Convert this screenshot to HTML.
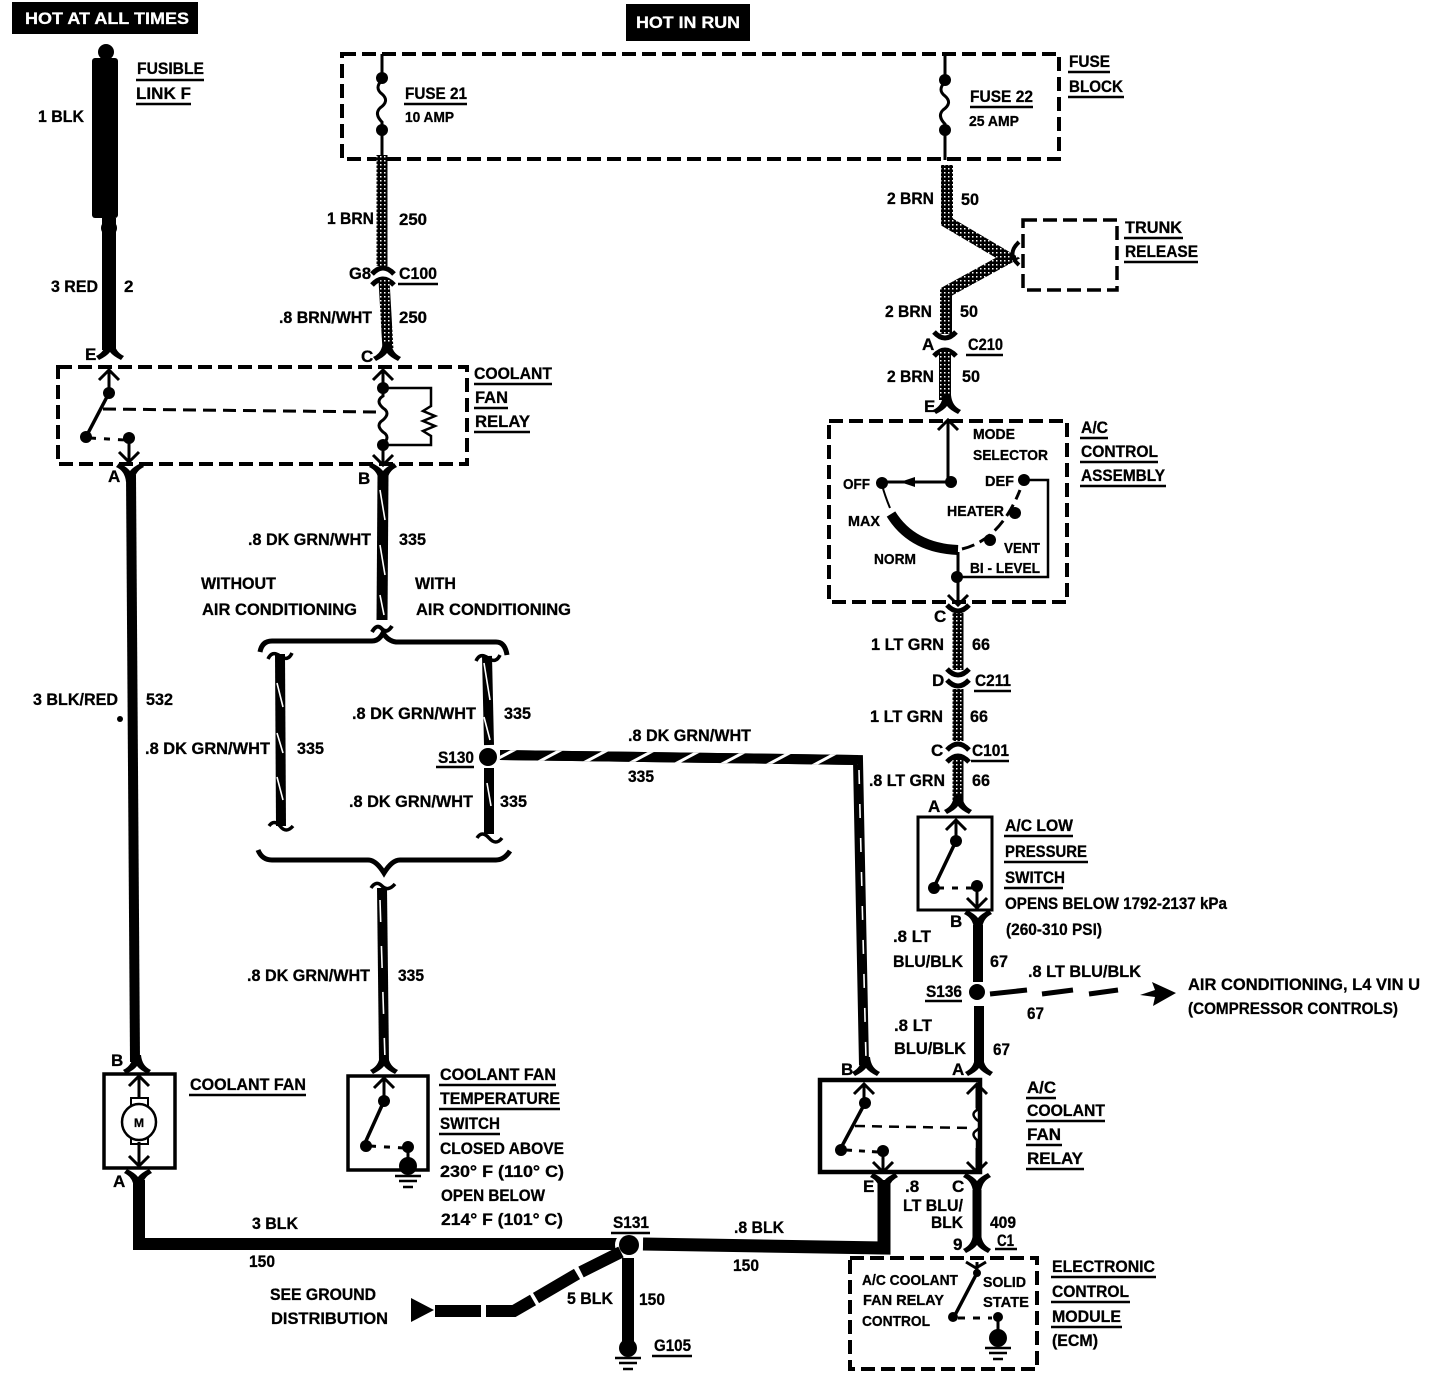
<!DOCTYPE html>
<html><head><meta charset="utf-8"><style>
html,body{margin:0;padding:0;background:#fff}
svg{display:block;stroke-width:3}
text{font-family:"Liberation Sans",sans-serif;font-weight:bold;font-size:17px;fill:#000;stroke:#000;stroke-width:.3}
text.s{font-size:14.5px}
text.w{fill:#fff;stroke:#fff}
.u{stroke:#000;stroke-width:2.5;fill:none}
.l{fill:none;stroke:#000}
.d{fill:none;stroke:#000;stroke-dasharray:14 6}
.x{fill:none;stroke:#fff;stroke-width:1.6}
</style></head><body>
<svg width="1456" height="1392" viewBox="0 0 1456 1392" xmlns="http://www.w3.org/2000/svg">
<defs>
<pattern id="h" width="22" height="22" patternUnits="userSpaceOnUse" patternTransform="rotate(62)"><rect width="22" height="22" fill="#000"/><rect x="0" y="0" width="3" height="22" fill="#fff"/></pattern>
<pattern id="g" width="4" height="4" patternUnits="userSpaceOnUse"><rect width="4" height="4" fill="#000"/><rect x="0" y="0" width="1.5" height="1.5" fill="#fff"/></pattern>
<path id="yd" d="M-4 -9 L4 -9 Q5 2 14 6 L11 10 Q3 6 0 2 Q-3 6 -11 10 L-14 6 Q-5 2 -4 -9Z" fill="#000"/>
<path id="yu" d="M-4 -9 L4 -9 Q5 2 14 6 L11 10 Q3 6 0 2 Q-3 6 -11 10 L-14 6 Q-5 2 -4 -9Z" fill="#000" transform="scale(1,-1)"/>
<path id="cu" d="M-11 6 Q0 -6 11 6" fill="none" stroke="#000" stroke-width="5"/>
<path id="cd" d="M-11 -6 Q0 6 11 -6" fill="none" stroke="#000" stroke-width="5"/>
<path id="au" d="M-10 10 L0 0 L10 10 M0 0 L0 24" fill="none" stroke="#000" stroke-width="3"/>
<path id="ad" d="M-10 -10 L0 0 L10 -10 M0 0 L0 -24" fill="none" stroke="#000" stroke-width="3"/>
<g id="gnd"><circle cx="0" cy="0" r="9" fill="#000"/><path d="M-13 10 H13 M-9 15 H9 M-5 21 H5" stroke="#000" stroke-width="2.5"/></g>
</defs>

<!-- headers -->
<rect x="12" y="2" width="186" height="32" fill="#000"/>
<text class="w" x="25" y="24" textLength="164" lengthAdjust="spacingAndGlyphs">HOT AT ALL TIMES</text>
<rect x="626" y="4" width="124" height="37" fill="#000"/>
<text class="w" x="636" y="28" textLength="104" lengthAdjust="spacingAndGlyphs">HOT IN RUN</text>

<!-- fusible link -->
<circle cx="106" cy="52" r="8" fill="#000"/>
<rect x="92" y="58" width="26" height="160" rx="3" fill="#000"/>
<circle cx="109" cy="228" r="8" fill="#000"/>
<line x1="109" y1="218" x2="109" y2="350" stroke="#000" stroke-width="14"/>
<use href="#yd" x="110" y="350"/>
<text x="137" y="74" textLength="67" lengthAdjust="spacingAndGlyphs">FUSIBLE</text><line class="u" x1="136" y1="80" x2="204" y2="80"/>
<text x="136" y="99" textLength="55" lengthAdjust="spacingAndGlyphs">LINK F</text><line class="u" x1="136" y1="104" x2="191" y2="104"/>
<text x="38" y="122" textLength="46" lengthAdjust="spacingAndGlyphs">1 BLK</text>
<text x="51" y="292" textLength="47" lengthAdjust="spacingAndGlyphs">3 RED</text>
<text x="124" y="292">2</text>

<!-- fuse block -->
<rect x="342" y="54" width="717" height="105" class="d" stroke-width="4"/>
<path d="M382 54 V80 q-8 8 0 14 q8 7 -2 14 q-6 6 2 14 V158" class="l" stroke-width="3"/>
<path d="M945 54 V82 q-8 8 0 14 q8 7 -2 14 q-6 6 2 14 V160" class="l" stroke-width="3"/>
<circle cx="382" cy="78" r="6"/><circle cx="382" cy="130" r="6"/><circle cx="945" cy="80" r="6"/><circle cx="945" cy="130" r="6"/>
<text x="405" y="99" textLength="62" lengthAdjust="spacingAndGlyphs">FUSE 21</text><line class="u" x1="404" y1="104" x2="467" y2="104"/>
<text class="s" x="405" y="122" textLength="49" lengthAdjust="spacingAndGlyphs">10 AMP</text>
<text x="970" y="102" textLength="63" lengthAdjust="spacingAndGlyphs">FUSE 22</text><line class="u" x1="970" y1="107" x2="1033" y2="107"/>
<text class="s" x="969" y="126" textLength="50" lengthAdjust="spacingAndGlyphs">25 AMP</text>
<text x="1069" y="67" textLength="41" lengthAdjust="spacingAndGlyphs">FUSE</text><line class="u" x1="1068" y1="72" x2="1110" y2="72"/>
<text x="1069" y="92" textLength="54" lengthAdjust="spacingAndGlyphs">BLOCK</text><line class="u" x1="1068" y1="97" x2="1124" y2="97"/>

<!-- BRN 250 wire -->
<line x1="382" y1="155" x2="382" y2="266" stroke="url(#g)" stroke-width="11"/>
<use href="#cu" x="383" y="268"/><use href="#cu" x="383" y="279"/>
<line x1="384" y1="280" x2="388" y2="350" stroke="url(#g)" stroke-width="11"/>
<use href="#yd" x="387" y="351"/>
<text x="327" y="224" textLength="47" lengthAdjust="spacingAndGlyphs">1 BRN</text><text x="399" y="225" textLength="28" lengthAdjust="spacingAndGlyphs">250</text>
<text x="349" y="279" textLength="22" lengthAdjust="spacingAndGlyphs">G8</text>
<text x="399" y="279" textLength="38" lengthAdjust="spacingAndGlyphs">C100</text><line class="u" x1="398" y1="284" x2="438" y2="284"/>
<text x="279" y="323" textLength="93" lengthAdjust="spacingAndGlyphs">.8 BRN/WHT</text><text x="399" y="323" textLength="28" lengthAdjust="spacingAndGlyphs">250</text>
<text x="85" y="360">E</text><text x="361" y="362">C</text>

<!-- Relay 1 -->
<rect x="58" y="367" width="409" height="97" class="d" stroke-width="4"/>
<use href="#au" x="109" y="370"/><circle cx="109" cy="393" r="6"/>
<path d="M109 393 L87 435" class="l" stroke-width="3.5"/><circle cx="86" cy="437" r="6"/>
<path d="M90 438 L125 440" class="l" stroke-dasharray="6 8"/><circle cx="129" cy="438" r="6"/>
<path d="M129 440 V460" class="l"/><use href="#ad" x="129" y="462"/>
<path d="M103 409 L378 412" class="l" stroke-dasharray="13 7"/>
<use href="#au" x="383" y="370"/><circle cx="383" cy="388" r="6"/><circle cx="383" cy="445" r="6"/>
<path d="M383 388 V396 q-8 5 0 12 q8 5 0 12 q-8 5 0 12 q8 5 0 12 V462" class="l"/>
<path d="M383 388 H431 V406 l-8 5 l12 5 l-12 5 l12 5 l-12 5 l8 5 V445 H383" class="l" stroke-width="2.5"/>
<use href="#ad" x="383" y="465"/>
<use href="#yu" x="130" y="473"/><use href="#yu" x="383" y="473"/>
<text x="108" y="482">A</text><text x="358" y="484">B</text>
<text x="474" y="379" textLength="78" lengthAdjust="spacingAndGlyphs">COOLANT</text><line class="u" x1="474" y1="384" x2="552" y2="384"/>
<text x="475" y="403" textLength="33" lengthAdjust="spacingAndGlyphs">FAN</text><line class="u" x1="474" y1="408" x2="508" y2="408"/>
<text x="475" y="427" textLength="55" lengthAdjust="spacingAndGlyphs">RELAY</text><line class="u" x1="474" y1="432" x2="530" y2="432"/>

<!-- 532 wire -->
<line x1="131" y1="475" x2="135" y2="1062" stroke="#000" stroke-width="10"/>
<circle cx="120" cy="719" r="3"/>
<text x="33" y="705" textLength="85" lengthAdjust="spacingAndGlyphs">3 BLK/RED</text><text x="146" y="705" textLength="27" lengthAdjust="spacingAndGlyphs">532</text>
<text x="145" y="754" textLength="125" lengthAdjust="spacingAndGlyphs">.8 DK GRN/WHT</text><text x="297" y="754" textLength="27" lengthAdjust="spacingAndGlyphs">335</text>

<!-- 335 top -->
<line x1="383" y1="475" x2="382" y2="620" stroke="#000" stroke-width="11"/>
<path d="M380 490 L385 520 M380 545 L385 575 M380 595 L384 615" class="x"/>
<path d="M372 632 q5 -9 10 -3 q5 5 10 -3" class="l" stroke-width="4"/>
<text x="248" y="545" textLength="123" lengthAdjust="spacingAndGlyphs">.8 DK GRN/WHT</text><text x="399" y="545" textLength="27" lengthAdjust="spacingAndGlyphs">335</text>
<text x="201" y="589" textLength="75" lengthAdjust="spacingAndGlyphs">WITHOUT</text>
<text x="202" y="615" textLength="155" lengthAdjust="spacingAndGlyphs">AIR CONDITIONING</text>
<text x="415" y="589" textLength="41" lengthAdjust="spacingAndGlyphs">WITH</text>
<text x="416" y="615" textLength="155" lengthAdjust="spacingAndGlyphs">AIR CONDITIONING</text>

<!-- braces -->
<path d="M260 652 Q262 641 272 641 H372 Q379 641 383 633 Q388 641 396 642 H496 Q505 642 507 655" class="l" stroke-width="5"/>
<path d="M258 850 Q262 860 272 860 H368 Q376 860 384 873 Q392 860 400 860 H496 Q504 860 510 851" class="l" stroke-width="5"/>
<path d="M268 659 q4 -9 12 -3 q8 6 12 -3" class="l" stroke-width="3.5"/>
<path d="M476 661 q4 -9 12 -3 q8 6 12 -3" class="l" stroke-width="3.5"/>
<line x1="280" y1="654" x2="281" y2="826" stroke="#000" stroke-width="10"/>
<path d="M277 683 L283 707 M277 733 L283 753 M277 777 L283 800" class="x"/>
<path d="M269 826 q5 -7 11 0 q6 8 13 0" class="l" stroke-width="3.5"/>
<line x1="487" y1="656" x2="489" y2="745" stroke="#000" stroke-width="10"/>
<path d="M484 663 L490 700 M484 717 L490 740" class="x"/>
<circle cx="488" cy="757" r="9"/>
<line x1="489" y1="768" x2="489" y2="834" stroke="#000" stroke-width="10"/>
<path d="M487 783 L491 806" class="x"/>
<path d="M477 838 q5 -8 12 0 q7 8 13 0" class="l" stroke-width="3.5"/>
<text x="352" y="719" textLength="124" lengthAdjust="spacingAndGlyphs">.8 DK GRN/WHT</text><text x="504" y="719" textLength="27" lengthAdjust="spacingAndGlyphs">335</text>
<text x="349" y="807" textLength="124" lengthAdjust="spacingAndGlyphs">.8 DK GRN/WHT</text><text x="500" y="807" textLength="27" lengthAdjust="spacingAndGlyphs">335</text>
<text x="438" y="763" textLength="36" lengthAdjust="spacingAndGlyphs">S130</text><line class="u" x1="436" y1="767" x2="474" y2="767"/>
<path d="M500 755 L858 760 L864 1065" fill="none" stroke="#000" stroke-width="10"/>
<path d="M500 755 L858 760" fill="none" stroke="url(#h)" stroke-width="10"/>
<path d="M859 770 L866 1060" class="x" stroke-dasharray="14 20"/>
<text x="628" y="741" textLength="123" lengthAdjust="spacingAndGlyphs">.8 DK GRN/WHT</text><text x="628" y="782" textLength="26" lengthAdjust="spacingAndGlyphs">335</text>

<!-- wire to temp switch -->
<path d="M371 888 q5 -8 11 -2 q6 6 13 -2" class="l" stroke-width="3.5"/>
<line x1="382" y1="888" x2="384" y2="1062" stroke="#000" stroke-width="10"/>
<path d="M380 900 L385 1060" class="x" stroke-dasharray="22 24"/>
<text x="247" y="981" textLength="123" lengthAdjust="spacingAndGlyphs">.8 DK GRN/WHT</text><text x="398" y="981" textLength="26" lengthAdjust="spacingAndGlyphs">335</text>
<use href="#yd" x="384" y="1064"/>

<!-- Coolant fan -->
<rect x="104" y="1074" width="71" height="94" fill="#fff" stroke="#000" stroke-width="3.5"/>
<use href="#yd" x="137" y="1064"/>
<use href="#au" x="139" y="1076"/>
<line x1="139" y1="1098" x2="139" y2="1165" stroke="#000" stroke-width="3"/>
<rect x="131" y="1098" width="17" height="9" fill="#fff" stroke="#000" stroke-width="2"/>
<rect x="131" y="1137" width="17" height="7" fill="#fff" stroke="#000" stroke-width="2"/>
<ellipse cx="139" cy="1122" rx="17" ry="18" fill="#fff" stroke="#000" stroke-width="2.5"/>
<text class="s" x="134" y="1127" style="font-size:12px">M</text>
<use href="#ad" x="139" y="1166"/>
<use href="#yu" x="138" y="1179"/>
<text x="111" y="1066">B</text><text x="113" y="1187">A</text>
<text x="190" y="1090" textLength="116" lengthAdjust="spacingAndGlyphs">COOLANT FAN</text><line class="u" x1="189" y1="1095" x2="306" y2="1095"/>

<!-- temp switch -->
<rect x="348" y="1076" width="80" height="94" fill="none" stroke="#000" stroke-width="3.5"/>
<use href="#au" x="384" y="1078"/>
<circle cx="384" cy="1101" r="6"/><path d="M384 1101 L365 1143" class="l" stroke-width="3.5"/><circle cx="366" cy="1146" r="6"/>
<path d="M370 1146 L404 1148" class="l" stroke-dasharray="6 8"/><circle cx="408" cy="1147" r="6"/>
<line x1="408" y1="1147" x2="408" y2="1165" stroke="#000" stroke-width="3"/>
<use href="#gnd" x="408" y="1166"/>
<text x="440" y="1080" textLength="116" lengthAdjust="spacingAndGlyphs">COOLANT FAN</text><line class="u" x1="439" y1="1085" x2="556" y2="1085"/>
<text x="440" y="1104" textLength="120" lengthAdjust="spacingAndGlyphs">TEMPERATURE</text><line class="u" x1="439" y1="1109" x2="560" y2="1109"/>
<text x="440" y="1129" textLength="60" lengthAdjust="spacingAndGlyphs">SWITCH</text><line class="u" x1="439" y1="1134" x2="500" y2="1134"/>
<text x="440" y="1154" textLength="124" lengthAdjust="spacingAndGlyphs">CLOSED ABOVE</text>
<text x="440" y="1177" textLength="124" lengthAdjust="spacingAndGlyphs">230°  F (110°  C)</text>
<text x="441" y="1201" textLength="104" lengthAdjust="spacingAndGlyphs">OPEN BELOW</text>
<text x="441" y="1225" textLength="122" lengthAdjust="spacingAndGlyphs">214°  F (101°  C)</text>

<!-- bottom wires -->
<path d="M139 1180 V1244 H620" fill="none" stroke="#000" stroke-width="12"/>
<path d="M643 1244 L884 1248 V1180" fill="none" stroke="#000" stroke-width="13"/>
<line x1="628" y1="1258" x2="628" y2="1345" stroke="#000" stroke-width="12"/>
<circle cx="629" cy="1245" r="14" fill="#fff"/>
<circle cx="629" cy="1245" r="10"/>
<line x1="628" y1="1258" x2="628" y2="1345" stroke="#000" stroke-width="12"/>
<use href="#gnd" x="628" y="1348"/>
<path d="M621 1252 L581 1272 M577 1274 L536 1298 M533 1300 L514 1311 H486 M481 1311 H435" fill="none" stroke="#000" stroke-width="12"/>
<polygon points="411,1298 434,1310 411,1322" fill="#000"/>
<text x="252" y="1229" textLength="46" lengthAdjust="spacingAndGlyphs">3 BLK</text><text x="249" y="1267" textLength="26" lengthAdjust="spacingAndGlyphs">150</text>
<text x="613" y="1228" textLength="36" lengthAdjust="spacingAndGlyphs">S131</text><line class="u" x1="611" y1="1233" x2="650" y2="1233"/>
<text x="734" y="1233" textLength="50" lengthAdjust="spacingAndGlyphs">.8 BLK</text><text x="733" y="1271" textLength="26" lengthAdjust="spacingAndGlyphs">150</text>
<text x="270" y="1300" textLength="106" lengthAdjust="spacingAndGlyphs">SEE GROUND</text>
<text x="271" y="1324" textLength="117" lengthAdjust="spacingAndGlyphs">DISTRIBUTION</text>
<text x="567" y="1304" textLength="46" lengthAdjust="spacingAndGlyphs">5 BLK</text><text x="639" y="1305" textLength="26" lengthAdjust="spacingAndGlyphs">150</text>
<text x="654" y="1351" textLength="37" lengthAdjust="spacingAndGlyphs">G105</text><line class="u" x1="652" y1="1356" x2="692" y2="1356"/>

<!-- BRN 50 -->
<path d="M947 165 V222 L1008 258 L946 292 V334" fill="none" stroke="url(#g)" stroke-width="12"/>
<rect x="1023" y="220" width="94" height="70" class="d" stroke-width="3.5"/>
<path d="M1019 242 Q1006 254 1019 265" class="l" stroke-width="4"/>
<use href="#cd" x="945" y="338"/><use href="#cu" x="945" y="350"/>
<line x1="945" y1="352" x2="945" y2="400" stroke="url(#g)" stroke-width="12"/>
<use href="#yd" x="947" y="404"/>
<text x="887" y="204" textLength="47" lengthAdjust="spacingAndGlyphs">2 BRN</text><text x="961" y="205" textLength="18" lengthAdjust="spacingAndGlyphs">50</text>
<text x="885" y="317" textLength="47" lengthAdjust="spacingAndGlyphs">2 BRN</text><text x="960" y="317" textLength="18" lengthAdjust="spacingAndGlyphs">50</text>
<text x="922" y="350">A</text><text x="968" y="350" textLength="35" lengthAdjust="spacingAndGlyphs">C210</text><line class="u" x1="966" y1="355" x2="1003" y2="355"/>
<text x="887" y="382" textLength="47" lengthAdjust="spacingAndGlyphs">2 BRN</text><text x="962" y="382" textLength="18" lengthAdjust="spacingAndGlyphs">50</text>
<text x="924" y="412">E</text>
<text x="1125" y="233" textLength="57" lengthAdjust="spacingAndGlyphs">TRUNK</text><line class="u" x1="1124" y1="238" x2="1183" y2="238"/>
<text x="1125" y="257" textLength="73" lengthAdjust="spacingAndGlyphs">RELEASE</text><line class="u" x1="1124" y1="262" x2="1198" y2="262"/>

<!-- AC control -->
<rect x="829" y="421" width="238" height="181" class="d" stroke-width="4"/>
<use href="#au" x="948" y="420"/>
<line x1="948" y1="440" x2="948" y2="481" stroke="#000" stroke-width="3"/>
<circle cx="951" cy="482" r="6"/>
<path d="M951 482 H886" class="l"/><polygon points="900,482 915,477 915,487" fill="#000"/><circle cx="882" cy="483" r="6"/>
<path d="M882 485 Q885 496 890 508" class="l" stroke-width="2"/>
<path d="M891 514 Q912 548 958 550" fill="none" stroke="#000" stroke-width="10"/>
<path d="M962 549 Q1000 540 1020 490" class="l" stroke-dasharray="13 6"/>
<circle cx="1024" cy="480" r="6"/><circle cx="1015" cy="513" r="6"/><circle cx="990" cy="540" r="6"/>
<path d="M1026 480 H1048 V577 H958" class="l" stroke-width="2.5"/>
<line x1="958" y1="552" x2="958" y2="600" stroke="#000" stroke-width="3"/>
<circle cx="957" cy="577" r="6"/>
<use href="#ad" x="958" y="605"/>
<text class="s" x="973" y="439" textLength="42" lengthAdjust="spacingAndGlyphs">MODE</text>
<text class="s" x="973" y="460" textLength="75" lengthAdjust="spacingAndGlyphs">SELECTOR</text>
<text class="s" x="843" y="489" textLength="27" lengthAdjust="spacingAndGlyphs">OFF</text>
<text class="s" x="985" y="486" textLength="29" lengthAdjust="spacingAndGlyphs">DEF</text>
<text class="s" x="947" y="516" textLength="57" lengthAdjust="spacingAndGlyphs">HEATER</text>
<text class="s" x="848" y="526" textLength="32" lengthAdjust="spacingAndGlyphs">MAX</text>
<text class="s" x="874" y="564" textLength="42" lengthAdjust="spacingAndGlyphs">NORM</text>
<text class="s" x="1004" y="553" textLength="36" lengthAdjust="spacingAndGlyphs">VENT</text>
<text class="s" x="970" y="573" textLength="70" lengthAdjust="spacingAndGlyphs">BI - LEVEL</text>
<text x="1081" y="433" textLength="27" lengthAdjust="spacingAndGlyphs">A/C</text><line class="u" x1="1080" y1="438" x2="1108" y2="438"/>
<text x="1081" y="457" textLength="77" lengthAdjust="spacingAndGlyphs">CONTROL</text><line class="u" x1="1080" y1="462" x2="1158" y2="462"/>
<text x="1081" y="481" textLength="84" lengthAdjust="spacingAndGlyphs">ASSEMBLY</text><line class="u" x1="1080" y1="486" x2="1166" y2="486"/>

<!-- LT GRN -->
<text x="934" y="622">C</text>
<use href="#cd" x="958" y="611"/>
<line x1="958" y1="613" x2="958" y2="670" stroke="url(#g)" stroke-width="11"/>
<use href="#cd" x="958" y="675"/><use href="#cd" x="958" y="686"/>
<line x1="958" y1="689" x2="958" y2="741" stroke="url(#g)" stroke-width="11"/>
<use href="#cu" x="958" y="744"/><use href="#cu" x="958" y="756"/>
<line x1="958" y1="758" x2="958" y2="803" stroke="url(#g)" stroke-width="11"/>
<use href="#yd" x="958" y="804"/>
<text x="871" y="650" textLength="73" lengthAdjust="spacingAndGlyphs">1 LT GRN</text><text x="972" y="650" textLength="18" lengthAdjust="spacingAndGlyphs">66</text>
<text x="932" y="686">D</text><text x="975" y="686" textLength="36" lengthAdjust="spacingAndGlyphs">C211</text><line class="u" x1="974" y1="691" x2="1011" y2="691"/>
<text x="870" y="722" textLength="73" lengthAdjust="spacingAndGlyphs">1 LT GRN</text><text x="970" y="722" textLength="18" lengthAdjust="spacingAndGlyphs">66</text>
<text x="931" y="756">C</text><text x="972" y="756" textLength="37" lengthAdjust="spacingAndGlyphs">C101</text><line class="u" x1="971" y1="761" x2="1009" y2="761"/>
<text x="869" y="786" textLength="76" lengthAdjust="spacingAndGlyphs">.8 LT GRN</text><text x="972" y="786" textLength="18" lengthAdjust="spacingAndGlyphs">66</text>
<text x="928" y="812">A</text>

<!-- low pressure switch -->
<rect x="918" y="817" width="74" height="93" fill="none" stroke="#000" stroke-width="3"/>
<use href="#au" x="956" y="820"/>
<circle cx="956" cy="841" r="6"/><path d="M956 841 L935 885" class="l" stroke-width="3.5"/><circle cx="934" cy="888" r="6"/>
<path d="M938 888 L972 888" class="l" stroke-dasharray="6 8"/><circle cx="977" cy="886" r="6"/>
<line x1="977" y1="886" x2="977" y2="905" stroke="#000" stroke-width="3"/><use href="#ad" x="977" y="908"/>
<use href="#yu" x="978" y="920"/>
<text x="950" y="927">B</text>
<text x="1005" y="831" textLength="68" lengthAdjust="spacingAndGlyphs">A/C LOW</text><line class="u" x1="1004" y1="836" x2="1073" y2="836"/>
<text x="1005" y="857" textLength="82" lengthAdjust="spacingAndGlyphs">PRESSURE</text><line class="u" x1="1004" y1="862" x2="1088" y2="862"/>
<text x="1005" y="883" textLength="60" lengthAdjust="spacingAndGlyphs">SWITCH</text><line class="u" x1="1004" y1="888" x2="1063" y2="888"/>
<text x="1005" y="909" textLength="222" lengthAdjust="spacingAndGlyphs">OPENS BELOW 1792-2137 kPa</text>
<text x="1006" y="935" textLength="96" lengthAdjust="spacingAndGlyphs">(260-310 PSI)</text>
<line x1="978" y1="925" x2="978" y2="982" stroke="#000" stroke-width="10"/>
<circle cx="977" cy="992" r="8"/>
<line x1="979" y1="1006" x2="979" y2="1063" stroke="#000" stroke-width="10"/>
<use href="#yd" x="979" y="1066"/>
<path d="M990 994 L1027 990 M1042 994 L1073 990 M1089 994 L1118 990" stroke="#000" stroke-width="5" fill="none"/>
<polygon points="1140,995 1155,990 1152,982 1176,993 1153,1006 1155,997" fill="#000"/>
<text x="893" y="942" textLength="38" lengthAdjust="spacingAndGlyphs">.8 LT</text>
<text x="893" y="967" textLength="70" lengthAdjust="spacingAndGlyphs">BLU/BLK</text><text x="990" y="967" textLength="18" lengthAdjust="spacingAndGlyphs">67</text>
<text x="1028" y="977" textLength="113" lengthAdjust="spacingAndGlyphs">.8 LT BLU/BLK</text>
<text x="1027" y="1019" textLength="17" lengthAdjust="spacingAndGlyphs">67</text>
<text x="926" y="997" textLength="36" lengthAdjust="spacingAndGlyphs">S136</text><line class="u" x1="925" y1="1001" x2="962" y2="1001"/>
<text x="894" y="1031" textLength="38" lengthAdjust="spacingAndGlyphs">.8 LT</text>
<text x="894" y="1054" textLength="72" lengthAdjust="spacingAndGlyphs">BLU/BLK</text><text x="993" y="1055" textLength="17" lengthAdjust="spacingAndGlyphs">67</text>
<text x="952" y="1075">A</text><text x="841" y="1075">B</text>
<text x="1188" y="990" textLength="232" lengthAdjust="spacingAndGlyphs">AIR CONDITIONING, L4 VIN U</text>
<text x="1188" y="1014" textLength="210" lengthAdjust="spacingAndGlyphs">(COMPRESSOR CONTROLS)</text>

<!-- AC coolant fan relay -->
<use href="#yd" x="866" y="1066"/>
<rect x="820" y="1080" width="160" height="92" fill="none" stroke="#000" stroke-width="4.5"/>
<use href="#au" x="864" y="1084"/>
<circle cx="865" cy="1103" r="6"/><path d="M865 1103 L842 1146" class="l" stroke-width="3.5"/><circle cx="841" cy="1150" r="6"/>
<path d="M846 1150 L878 1152" class="l" stroke-dasharray="6 7"/><circle cx="883" cy="1151" r="6"/>
<line x1="883" y1="1151" x2="883" y2="1170" stroke="#000" stroke-width="3"/><use href="#ad" x="883" y="1172"/>
<path d="M855 1126 L972 1128" class="l" stroke-dasharray="10 7" stroke-width="2.5"/>
<use href="#au" x="977" y="1084"/>
<path d="M977 1100 V1110 q-7 4 0 10 q7 4 0 10 q-7 4 0 10 V1165" class="l" stroke-width="2.5"/>
<use href="#ad" x="977" y="1172"/>
<use href="#yu" x="884" y="1183"/><use href="#yu" x="977" y="1183"/>
<text x="863" y="1192">E</text><text x="952" y="1192">C</text>
<text x="905" y="1192">.8</text>
<text x="903" y="1211" textLength="60" lengthAdjust="spacingAndGlyphs">LT BLU/</text>
<text x="931" y="1228" textLength="32" lengthAdjust="spacingAndGlyphs">BLK</text>
<text x="990" y="1228" textLength="26" lengthAdjust="spacingAndGlyphs">409</text>
<text x="953" y="1250">9</text>
<text x="997" y="1246" textLength="17" lengthAdjust="spacingAndGlyphs">C1</text><line class="u" x1="995" y1="1249" x2="1017" y2="1249"/>
<line x1="977" y1="1190" x2="977" y2="1240" stroke="#000" stroke-width="9"/>
<use href="#yd" x="977" y="1243"/>
<text x="1027" y="1093" textLength="29" lengthAdjust="spacingAndGlyphs">A/C</text><line class="u" x1="1026" y1="1098" x2="1056" y2="1098"/>
<text x="1027" y="1116" textLength="78" lengthAdjust="spacingAndGlyphs">COOLANT</text><line class="u" x1="1026" y1="1121" x2="1105" y2="1121"/>
<text x="1027" y="1140" textLength="34" lengthAdjust="spacingAndGlyphs">FAN</text><line class="u" x1="1026" y1="1145" x2="1062" y2="1145"/>
<text x="1027" y="1164" textLength="56" lengthAdjust="spacingAndGlyphs">RELAY</text><line class="u" x1="1026" y1="1169" x2="1084" y2="1169"/>

<!-- ECM -->
<rect x="850" y="1258" width="187" height="111" class="d" stroke-width="4"/>
<path d="M966 1262 L976 1268 L986 1262" class="l"/>
<line x1="977" y1="1262" x2="977" y2="1272" stroke="#000" stroke-width="3"/>
<circle cx="977" cy="1273" r="4"/><path d="M977 1273 L955 1315" class="l" stroke-width="3.5"/><circle cx="953" cy="1317" r="5"/>
<path d="M958 1318 L992 1318" class="l" stroke-dasharray="7 8"/><circle cx="998" cy="1317" r="5"/>
<line x1="998" y1="1317" x2="998" y2="1336" stroke="#000" stroke-width="3"/>
<use href="#gnd" x="998" y="1338"/>
<text class="s" x="862" y="1285" textLength="96" lengthAdjust="spacingAndGlyphs">A/C COOLANT</text>
<text class="s" x="863" y="1305" textLength="81" lengthAdjust="spacingAndGlyphs">FAN RELAY</text>
<text class="s" x="862" y="1326" textLength="68" lengthAdjust="spacingAndGlyphs">CONTROL</text>
<text class="s" x="983" y="1287" textLength="43" lengthAdjust="spacingAndGlyphs">SOLID</text>
<text class="s" x="983" y="1307" textLength="46" lengthAdjust="spacingAndGlyphs">STATE</text>
<text x="1052" y="1272" textLength="103" lengthAdjust="spacingAndGlyphs">ELECTRONIC</text><line class="u" x1="1051" y1="1277" x2="1156" y2="1277"/>
<text x="1052" y="1297" textLength="77" lengthAdjust="spacingAndGlyphs">CONTROL</text><line class="u" x1="1051" y1="1302" x2="1130" y2="1302"/>
<text x="1052" y="1322" textLength="69" lengthAdjust="spacingAndGlyphs">MODULE</text><line class="u" x1="1051" y1="1327" x2="1122" y2="1327"/>
<text x="1052" y="1346" textLength="46" lengthAdjust="spacingAndGlyphs">(ECM)</text>
</svg>
</body></html>
